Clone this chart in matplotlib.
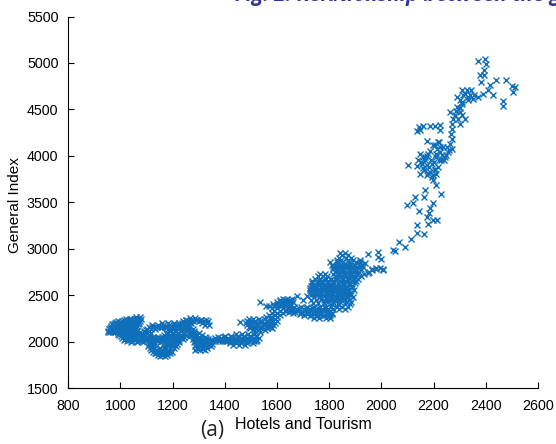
import matplotlib
matplotlib.use('Agg')
import matplotlib.pyplot as plt

# values, General Index: [Hotels and Tourism, ...]
left_part = {
    2262: [1058, 1075],
    2247: [1035, 1050, 1066, 1078],
    2240: [1022, 1042, 1060],
    2232: [1012, 1031, 1049, 1068],
    2218: [990, 1005, 1022, 1040, 1058, 1074],
    2210: [984, 1000, 1030, 1048, 1066],
    2203: [978, 996, 1015, 1036, 1056, 1072],
    2185: [968, 975, 990, 1005, 1026, 1046, 1066],
    2176: [972, 996, 1015, 1036, 1055],
    2168: [964, 985, 1006, 1024, 1046, 1063],
    2150: [958, 972, 990, 1010, 1028, 1042, 1058],
    2141: [965, 985, 1005, 1025, 1044],
    2133: [955, 974, 995, 1016, 1034, 1052],
    2115: [952, 965, 982, 1001, 1020, 1040, 1062],
    2106: [960, 980, 1000, 1020, 1040, 1058],
    2098: [952, 971, 989, 1011, 1029, 1051, 1074],
    2080: [990, 1008, 1028, 1046, 1066, 1088],
    2071: [996, 1012, 1034, 1052, 1074],
    2062: [1001, 1019, 1041, 1060, 1086],
    2042: [1006, 1024, 1044, 1064, 1080, 1098],
    2032: [1016, 1036, 1058, 1086],
    2022: [1012, 1029, 1052, 1076, 1094],
    2005: [1024, 1046, 1068, 1084],
    1992: [1040, 1062, 1088],
}
middle_part = {
    2252: [1268, 1286],
    2237: [1250, 1270, 1290, 1310],
    2228: [1250, 1270, 1292, 1310, 1328],
    2222: [1240, 1261, 1279, 1301, 1319, 1335],
    2205: [1235, 1252, 1270, 1312, 1330],
    2198: [1158, 1181, 1204, 1226],
    2182: [1229, 1256, 1324, 1341],
    2175: [1120, 1142, 1164, 1186, 1206, 1222, 1246, 1262],
    2162: [1120, 1140, 1160, 1180, 1200, 1220, 1240, 1258],
    2152: [1111, 1129, 1151, 1172, 1189, 1211, 1232, 1249, 1268],
    2132: [1100, 1116, 1132, 1182, 1202, 1220, 1240, 1258, 1276],
    2122: [1098, 1190, 1212, 1236, 1260],
    2112: [1091, 1108, 1192, 1209, 1231, 1252, 1269, 1282],
    2092: [1100, 1118, 1176, 1198, 1220, 1240, 1262, 1282, 1300],
    2082: [1178, 1202, 1222, 1244, 1266, 1284],
    2072: [1109, 1168, 1191, 1212, 1229, 1251, 1272, 1290, 1311],
    2052: [1106, 1126, 1144, 1160, 1180, 1200, 1222, 1242, 1262, 1284, 1302, 1322],
    2041: [1110, 1130, 1152, 1172, 1192, 1212, 1232, 1286, 1306, 1326],
    2032: [1101, 1119, 1141, 1162, 1179, 1201, 1221, 1238, 1276, 1294, 1316, 1334],
    2012: [1108, 1126, 1146, 1166, 1186, 1204, 1224, 1284, 1306, 1326, 1344],
    2002: [1118, 1140, 1160, 1180, 1200, 1218, 1292, 1312, 1332],
    1992: [1112, 1128, 1151, 1169, 1191, 1209, 1226, 1281, 1299, 1321, 1339],
    1972: [1110, 1130, 1176, 1198, 1216, 1290, 1312, 1332, 1350],
    1962: [1116, 1182, 1204, 1296, 1318, 1338],
    1952: [1106, 1124, 1171, 1192, 1211, 1286, 1304, 1326, 1346],
    1932: [1112, 1130, 1150, 1168, 1188, 1206, 1292, 1312, 1330],
    1921: [1124, 1148, 1172, 1296, 1316],
    1912: [1116, 1136, 1159, 1181, 1284, 1306, 1324],
    1892: [1124, 1142, 1164, 1184, 1198],
    1881: [1138, 1158, 1178],
    1872: [1131, 1149, 1171, 1189],
    1855: [1142, 1160, 1180],
    1842: [1151, 1169],
}
rising_part = {
    2082: [1441, 1466, 1489, 1511],
    2062: [1400, 1422, 1450, 1474, 1498, 1520],
    2051: [1372, 1396, 1424, 1450, 1474, 1498, 1520],
    2042: [1361, 1384, 1411, 1434, 1461, 1484, 1512, 1529],
    2022: [1352, 1372, 1396, 1424, 1448, 1474, 1500, 1522],
    2011: [1362, 1388, 1410, 1434, 1458, 1484, 1510],
    2002: [1351, 1376, 1399, 1421, 1444, 1471, 1494, 1521],
    1982: [1420, 1442, 1462, 1486, 1506],
    1962: [1431, 1454, 1476],
    2102: [1515, 1534],
    2122: [1511, 1529, 1552],
    2142: [1498, 1518, 1540, 1562, 1582],
    2162: [1491, 1511, 1534, 1556, 1574],
    2171: [1500, 1522, 1544, 1564],
    2182: [1486, 1504, 1526, 1546, 1566, 1584],
    2202: [1482, 1501, 1524, 1549, 1571, 1591],
    2209: [1458],
    2211: [1492, 1512, 1538, 1560, 1582],
    2222: [1486, 1514, 1536, 1560, 1582, 1598],
    2242: [1491, 1509, 1531, 1552, 1576, 1592],
    2262: [1556, 1578, 1600],
    2282: [1569, 1591, 1611],
    2307: [1580, 1600, 1622],
    2332: [1589, 1612, 1634],
    2357: [1580, 1600, 1622, 1642],
    2382: [1571, 1556, 1589, 1611, 1629, 1651],
    2391: [1600, 1620, 1640],
    2403: [1586, 1608, 1630, 1650],
    2425: [1534, 1601, 1619, 1641, 1660],
    2436: [1612, 1632, 1652],
    2445: [1610, 1630, 1650],
    2462: [1621, 1640, 1659],
}
streak_part = {
    2372: [1641, 1664, 1691, 1714, 1741, 1764, 1789],
    2361: [1660, 1686, 1710, 1734, 1758, 1782],
    2352: [1650, 1676, 1702, 1726, 1750, 1774, 1796],
    2332: [1631, 1656, 1679, 1706, 1729, 1756, 1781, 1801],
    2321: [1645, 1670, 1696, 1722, 1748, 1774, 1798],
    2312: [1662, 1692, 1718, 1744, 1770, 1794, 1810],
    2292: [1689, 1716, 1739, 1766, 1791, 1811],
    2281: [1704, 1730, 1756, 1782, 1804],
    2272: [1726, 1750, 1776, 1800],
    2252: [1741, 1759, 1786, 1801],
    2490: [1676, 1715],
    2450: [1700, 1730],
    2420: [1736, 1755, 1780],
}
central_part = {
    2955: [1841, 1861],
    2930: [1848, 1872],
    2902: [1839, 1866, 1885],
    2877: [1828, 1846, 1870, 1890],
    2852: [1803, 1828, 1851, 1874, 1901, 1919],
    2827: [1810, 1834, 1858, 1880, 1898, 1926],
    2813: [1826, 1850, 1872, 1894, 1916],
    2802: [1816, 1839, 1861, 1884, 1906, 1931],
    2777: [1816, 1828, 1850, 1874, 1896, 1920, 1962, 1981, 2007],
    2763: [1832, 1858, 1880, 1904],
    2752: [1821, 1846, 1869, 1891, 1914, 1951],
    2727: [1766, 1784, 1814, 1838, 1860, 1884, 1906, 1932],
    2713: [1838, 1862, 1884, 1908],
    2702: [1755, 1775, 1791, 1826, 1849, 1876, 1894, 1921],
    2677: [1746, 1766, 1786, 1806, 1830, 1852, 1872, 1894, 1912],
    2663: [1760, 1780, 1824, 1848, 1870, 1896],
    2652: [1735, 1756, 1774, 1796, 1814, 1841, 1859, 1886, 1904],
    2627: [1732, 1752, 1772, 1794, 1816, 1834, 1852, 1876, 1898],
    2613: [1740, 1760, 1780, 1802, 1836, 1858, 1880],
    2602: [1731, 1749, 1771, 1791, 1811, 1826, 1846, 1869, 1889],
    2577: [1728, 1746, 1768, 1788, 1806, 1824, 1842, 1864, 1886],
    2563: [1736, 1756, 1776, 1798, 1820, 1842, 1866],
    2552: [1726, 1744, 1766, 1786, 1809, 1831, 1854, 1876, 1896],
    2527: [1728, 1748, 1770, 1792, 1812, 1834, 1858, 1880],
    2513: [1742, 1764, 1786, 1806, 1828, 1850, 1872],
    2502: [1731, 1754, 1776, 1796, 1816, 1839, 1861, 1884],
    2477: [1740, 1764, 1786, 1808, 1828, 1850, 1872, 1890],
    2463: [1770, 1792, 1812, 1840, 1862],
    2452: [1751, 1779, 1801, 1821, 1831, 1851, 1874],
    2427: [1794, 1816, 1842, 1866, 1884],
    2402: [1811, 1834, 1861, 1881],
    2377: [1808, 1828, 1850, 1870],
    2352: [1816, 1839, 1861],
}
# sparse upper branch, one value per mark
hotels_upper = [1917, 1937, 1949, 1988, 1988, 2000, 1981, 2007, 1995, 1962, 1949,
                2045, 2052, 2068, 2092, 2115, 2164, 2135, 2135, 2179, 2198, 2214, 2173, 2183, 2145, 2186, 2198, 2099, 2122, 2128, 2164, 2228, 2166, 2211,
                2198, 2163, 2186, 2211, 2192, 2173, 2147, 2205, 2192, 2173, 2154, 2103, 2135, 2141, 2166, 2147,
                2180, 2196, 2160, 2150, 2204, 2182, 2168, 2190, 2216, 2200, 2176, 2158, 2222, 2208, 2188,
                2243, 2211, 2224, 2256, 2237, 2218, 2198, 2175, 2180, 2228, 2250,
                2232, 2214, 2246, 2226, 2258, 2240, 2206, 2222,
                2269, 2262, 2269, 2265, 2269, 2147, 2224, 2224, 2205, 2186, 2160, 2145, 2135,
                2301, 2275, 2320, 2301, 2281, 2262, 2288, 2307, 2292, 2310, 2272, 2286, 2300,
                2371, 2307, 2352, 2333, 2313, 2345, 2326, 2307, 2288, 2320, 2338, 2300, 2330, 2356,
                2390, 2409, 2428, 2467, 2467, 2505, 2511, 2499, 2476, 2438, 2415, 2383, 2392, 2377, 2392, 2400, 2396, 2371]
general_upper = [2877, 2841, 2938, 2966, 2912, 2894, 2787, 2769, 2790, 2769, 2733,
                 2984, 2975, 3067, 3020, 3099, 3156, 3171, 3253, 3271, 3307, 3314, 3343, 3379, 3404, 3433, 3493, 3468, 3493, 3558, 3558, 3594, 3630, 3684,
                 3737, 3845, 3827, 3809, 3773, 3791, 3809, 3863, 3917, 3899, 3917, 3899, 3888, 3953, 3989, 4017,
                 3810, 3790, 3870, 3930, 3850, 3880, 3950, 3950, 3880, 3930, 4000, 3990, 3960, 4020, 4050,
                 3989, 3989, 4042, 4042, 4096, 4150, 4114, 4157, 4020, 3950, 4100,
                 4010, 4070, 4010, 4100, 4060, 3960, 4120, 4150,
                 4078, 4132, 4186, 4240, 4293, 4283, 4275, 4329, 4319, 4319, 4319, 4311, 4268,
                 4347, 4401, 4401, 4473, 4437, 4473, 4527, 4562, 4400, 4440, 4340, 4480, 4510,
                 4634, 4580, 4616, 4634, 4652, 4706, 4706, 4706, 4634, 4670, 4660, 4600, 4600, 4660,
                 4670, 4706, 4652, 4537, 4588, 4688, 4742, 4749, 4821, 4821, 4760, 4796, 4867, 4867, 4921, 4986, 5047, 5018]

hotels = list(hotels_upper)
general = list(general_upper)
for part in [left_part, middle_part, rising_part, streak_part, central_part]:
    for g, xs in part.items():
        for h in xs:
            hotels.append(h)
            general.append(g)

plt.rcParams['font.family'] = ['Liberation Sans', 'DejaVu Sans']
fig = plt.figure(figsize=(5.56, 4.44), dpi=100)
ax = fig.add_axes([68.3 / 556, 1 - 388 / 444, 469.7 / 556, 371.5 / 444])
ax.plot(hotels, general, 'x', color='#0F6FBA', markersize=5, markeredgewidth=1.0)

ax.set_xlim(800, 2600)
ax.set_ylim(1500, 5500)
ax.set_xticks(range(800, 2601, 200))
ax.set_yticks(range(1500, 5501, 500))
ax.spines['top'].set_visible(False)
ax.spines['right'].set_visible(False)
ax.tick_params(direction='in', length=4, width=0.8, labelsize=10.3)
ax.tick_params(axis='x', pad=8)
ax.tick_params(axis='y', pad=7)
ax.set_xlabel('Hotels and Tourism', fontsize=11.5, labelpad=3)
ax.set_ylabel('General Index', fontsize=11)
ax.yaxis.set_label_coords(-0.0986, 0.4926)

fig.text(200 / 556, 1 - 436 / 444, '(a)', fontsize=15, family='Open Sans', color='#222222')
# caption of the page, cut by the upper edge of the picture
fig.text(235 / 556, 1 - 1.5 / 444, 'Fig. 2: Relationship between the g', fontsize=14.8,
         family='Open Sans', weight='bold', style='italic', color='#333399')

fig.savefig('out.png', dpi=100)
